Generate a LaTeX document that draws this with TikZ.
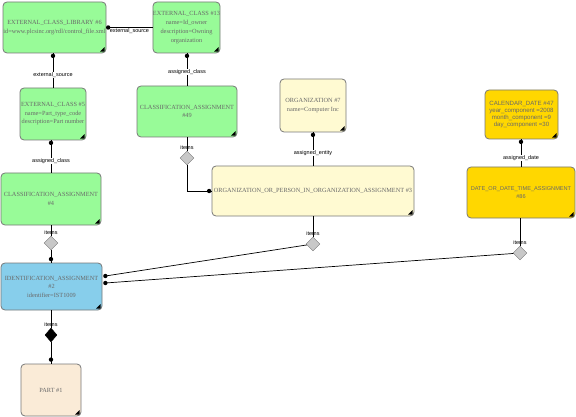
\documentclass[tikz,border=0pt]{standalone}
\usepackage{fontspec}
\setmainfont{Liberation Serif}
\newfontfamily\lblfont{Liberation Sans}
\usetikzlibrary{shapes.geometric,calc}
\definecolor{cgreen}{RGB}{152,251,152}
\definecolor{cyellow}{RGB}{255,250,210}
\definecolor{cgold}{RGB}{255,215,0}
\definecolor{cblue}{RGB}{135,206,235}
\definecolor{cpart}{RGB}{250,235,215}
\definecolor{cborder}{RGB}{120,120,120}
\definecolor{ctext}{RGB}{105,105,105}
\definecolor{cdiam}{RGB}{200,200,200}
\tikzset{
  ent/.style={draw=cborder, line width=0.8pt, rounded corners=4pt, align=center, inner sep=0pt,
    font=\fontsize{6.3}{8.5}\selectfont, text=ctext},
  goldent/.style={ent, fill=cgold, font=\lblfont\fontsize{6.1}{7.2}\selectfont},
  dia/.style={diamond, draw=cborder, fill=cdiam, minimum width=14pt, minimum height=14pt, inner sep=0pt},
  bdia/.style={diamond, draw=black, fill=black, minimum width=12pt, minimum height=14pt, inner sep=0pt},
  lbl/.style={font=\lblfont\fontsize{5.5}{6}\selectfont, fill=white, inner sep=0.5pt},
  conn/.style={draw=black, line width=0.7pt},
}
\begin{document}
\begin{tikzpicture}[x=1pt,y=-1pt]
\useasboundingbox (0,0) rectangle (576,417);
% entities
\node[ent, fill=cgreen, minimum width=103pt, minimum height=51pt] (lib) at (54.5,27.5)
  {EXTERNAL\_CLASS\_LIBRARY \#6\\id=www.plcsinc.org/rdl/control\_file.xml};
\node[ent, fill=cgreen, minimum width=67pt, minimum height=51pt, font=\fontsize{6.3}{9}\selectfont] (ec13) at (186.5,27.5)
  {EXTERNAL\_CLASS \#13\\name=Id\_owner\\description=Owning\\organization};
\node[ent, fill=cgreen, minimum width=66pt, minimum height=52pt] (ec5) at (53,114)
  {EXTERNAL\_CLASS \#5\\name=Part\_type\_code\\description=Part number};
\node[ent, fill=cgreen, minimum width=100pt, minimum height=51pt] (ca49) at (187,111.5)
  {CLASSIFICATION\_ASSIGNMENT\\\#49};
\node[ent, fill=cgreen, minimum width=100pt, minimum height=52pt] (ca4) at (51,199)
  {CLASSIFICATION\_ASSIGNMENT\\\#4};
\node[ent, fill=cyellow, minimum width=66pt, minimum height=53pt] (org7) at (313,105.5)
  {ORGANIZATION \#7\\name=Computer Inc};
\node[ent, fill=cyellow, minimum width=202pt, minimum height=50pt] (oopioa) at (313,191)
  {ORGANIZATION\_OR\_PERSON\_IN\_ORGANIZATION\_ASSIGNMENT \#3};
\node[goldent, minimum width=73pt, minimum height=49pt] (cal) at (521.5,114.5)
  {CALENDAR\_DATE \#47\\year\_component =2008\\month\_component =9\\day\_component =30};
\node[goldent, minimum width=108pt, minimum height=51pt, font=\lblfont\fontsize{5.6}{8.5}\selectfont] (dta) at (521,192.5)
  {DATE\_OR\_DATE\_TIME\_ASSIGNMENT\\\#86};
\node[ent, fill=cblue, minimum width=101pt, minimum height=47pt] (id) at (51.5,286.5)
  {IDENTIFICATION\_ASSIGNMENT\\\#2\\identifier=IST1009};
\node[ent, fill=cpart, minimum width=60pt, minimum height=52pt] (part) at (51,390)
  {PART \#1};
% corner marks
\foreach \n in {lib,ec13,ec5,ca49,ca4,org7,oopioa,cal,dta,id,part}
  \fill ([xshift=-1.8pt,yshift=1.8pt]\n.south east) -- ++(0,-4.5) -- ++(-4.5,4.5) -- cycle;
% diamonds
\node[dia] (d49) at (187,158) {};
\node[dia] (d4) at (51,243) {};
\node[dia] (d3) at (313,244) {};
\node[dia] (d86) at (520,253) {};
\node[bdia] (did) at (51,335) {};
% simple connectors
\draw[conn] (lib.east) -- node[lbl, below=0.3pt, fill=none] {external\_source} (ec13.west);
\fill ([xshift=1.8pt]lib.east) circle (2.2pt);
\draw[conn] (ec5.north |- lib.south) -- node[lbl, pos=0.63] {external\_source} (ec5.north);
\fill ([yshift=-2.5pt]ec5.north |- lib.south) circle (2.2pt);
\draw[conn] (ca49.north |- ec13.south) -- node[lbl, pos=0.58] {assigned\_class} (ca49.north);
\fill ([yshift=-2.5pt]ca49.north |- ec13.south) circle (2.2pt);
\draw[conn] (ca4.north |- ec5.south) -- node[lbl, pos=0.64] {assigned\_class} (ca4.north);
\fill ([yshift=-2.5pt]ca4.north |- ec5.south) circle (2.2pt);
\draw[conn] (org7.south) -- node[lbl, pos=0.62] {assigned\_entity} (oopioa.north);
\fill ([yshift=-2.5pt]org7.south) circle (2.2pt);
\draw[conn] (cal.south -| dta.north) -- node[lbl, pos=0.68] {assigned\_date} (dta.north);
\fill ([yshift=-2.5pt]cal.south -| dta.north) circle (2.2pt);
% items connectors
\draw[conn] (ca49.south -| d49.north) -- node[lbl, pos=1, above=0.3pt, fill=none] {items} (d49.north);
\draw[conn] (d49.south) |- (oopioa.west);
\fill ([xshift=-2.5pt]oopioa.west) circle (2.2pt);
\draw[conn] (ca4.south -| d4.north) -- node[lbl, pos=1, above=0.3pt, fill=none] {items} (d4.north);
\draw[conn] (d4.south) -- (d4.south |- id.north);
\fill ([yshift=3.5pt]d4.south |- id.north) circle (2.2pt);
\draw[conn] (oopioa.south -| d3.north) -- node[lbl, pos=1, above=0.3pt, fill=none] {items} (d3.north);
\draw[conn] (d3) -- ([xshift=3pt,yshift=10.5pt]id.east);
\fill ([xshift=3pt,yshift=10.5pt]id.east) circle (2.2pt);
\draw[conn] (dta.south -| d86.north) -- node[lbl, pos=1, above=0.3pt, fill=none] {items} (d86.north);
\draw[conn] (d86) -- ([xshift=3pt,yshift=3.5pt]id.east);
\fill ([xshift=3pt,yshift=3.5pt]id.east) circle (2.2pt);
\draw[conn] (id.south -| did.north) -- node[lbl, pos=1, above=0.3pt, fill=none] {items} (did.north);
\draw[conn] (did.south) -- (did.south |- part.north);
\fill ([yshift=4pt]did.south |- part.north) circle (2.2pt);
\end{tikzpicture}
\end{document}
